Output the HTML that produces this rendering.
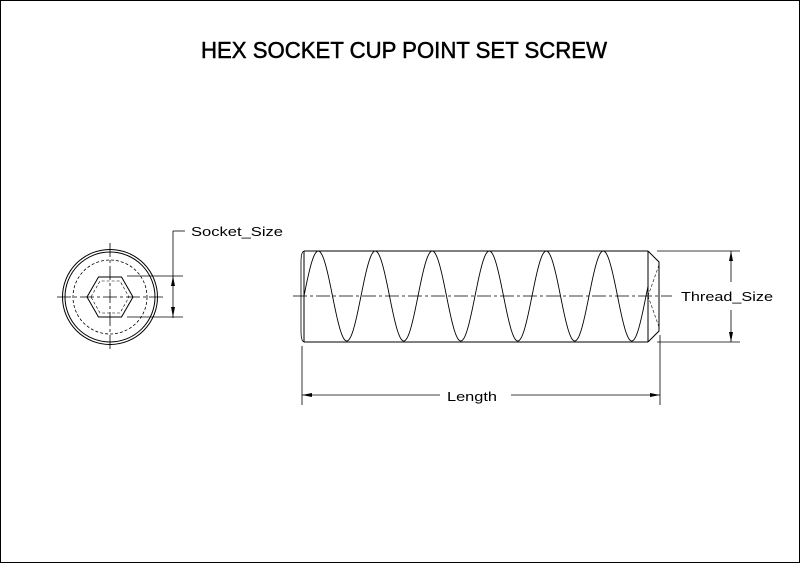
<!DOCTYPE html>
<html><head><meta charset="utf-8"><style>
html,body{margin:0;padding:0;background:#fff;}
svg{display:block;}
text{font-family:"Liberation Sans",sans-serif;fill:#000;}
</style></head><body>
<svg width="800" height="563" viewBox="0 0 800 563" xmlns="http://www.w3.org/2000/svg">
<rect x="0.5" y="0.5" width="799" height="562" fill="none" stroke="#000" stroke-width="1"/>
<text x="201" y="58" font-size="23" textLength="406" lengthAdjust="spacingAndGlyphs" stroke="#000" stroke-width="0.5" style="font-family:'Liberation Sans Narrow','Liberation Sans',sans-serif">HEX SOCKET CUP POINT SET SCREW</text>

<g stroke="#000" fill="none" stroke-width="1">
<circle cx="110" cy="297" r="47.5"/>
<circle cx="110" cy="297" r="45"/>
<circle cx="110" cy="297" r="37" stroke-dasharray="3,2" stroke-width="0.8"/>
<polygon points="87,297 98.5,277 121.5,277 133,297 121.5,317 98.5,317"/>
<polygon points="91,297 100,281 120,281 129,297 120,313 100,313" stroke-dasharray="3,2" stroke-width="0.6"/>
<line x1="57" y1="297" x2="165" y2="297" stroke-dasharray="14,3,3,3" stroke-width="0.8"/>
<line x1="110" y1="243" x2="110" y2="352" stroke-dasharray="14,3,3,3" stroke-width="0.8"/>
<line x1="127" y1="276" x2="183" y2="276" stroke-width="0.8"/>
<line x1="127" y1="317" x2="183" y2="317" stroke-width="0.8"/>
<line x1="173" y1="231" x2="173" y2="318" stroke-width="0.8"/>
<line x1="173" y1="231" x2="185" y2="231" stroke-width="0.8"/>

<line x1="304" y1="251" x2="648" y2="251"/>
<line x1="304" y1="342" x2="648" y2="342"/>
<line x1="304" y1="251" x2="304" y2="342"/>
<path d="M304,251 Q301,252 301,262 L301,331 Q301,341 304,342" stroke-width="0.8"/>
<line x1="648" y1="251" x2="648" y2="342"/>
<polyline points="648,251 659,262 659,331 648,342"/>
<line x1="659" y1="265" x2="648" y2="296" stroke-dasharray="3,2" stroke-width="0.6"/>
<line x1="659" y1="327" x2="648" y2="296" stroke-dasharray="3,2" stroke-width="0.6"/>
<line x1="293" y1="296" x2="672" y2="296" stroke-dasharray="14,3,3,3" stroke-width="0.8"/>
<path id="sine" stroke-width="0.9"/>

<line x1="657" y1="251" x2="740" y2="251" stroke-width="0.8"/>
<line x1="657" y1="342" x2="740" y2="342" stroke-width="0.8"/>
<line x1="731" y1="251" x2="731" y2="282" stroke-width="0.8"/>
<line x1="731" y1="310" x2="731" y2="342" stroke-width="0.8"/>

<line x1="302" y1="346" x2="302" y2="405" stroke-width="0.8"/>
<line x1="660" y1="335" x2="660" y2="405" stroke-width="0.8"/>
<line x1="302" y1="395" x2="440" y2="395" stroke-width="0.8"/>
<line x1="511" y1="395" x2="660" y2="395" stroke-width="0.8"/>
</g>
<g fill="#000">
<polygon points="731,251 729,261 733,261"/>
<polygon points="731,342 729,332 733,332"/>
<polygon points="173,276 171,286 175,286"/>
<polygon points="173,317 171,307 175,307"/>
<polygon points="302,395 312,393 312,397"/>
<polygon points="660,395 650,393 650,397"/>
</g>
<text x="191" y="236" font-size="13" textLength="92" lengthAdjust="spacingAndGlyphs">Socket_Size</text>
<text x="681" y="301" font-size="13" textLength="92" lengthAdjust="spacingAndGlyphs">Thread_Size</text>
<text x="447" y="401" font-size="13" textLength="50" lengthAdjust="spacingAndGlyphs">Length</text>
<script>
var d="M304,296";
for(var x=304;x<=648;x+=1){var y=296-45*Math.sin(2*Math.PI*(x-304)/57);d+=" L"+x+","+y.toFixed(2);}
document.getElementById("sine").setAttribute("d",d);
</script>
</svg>
</body></html>
